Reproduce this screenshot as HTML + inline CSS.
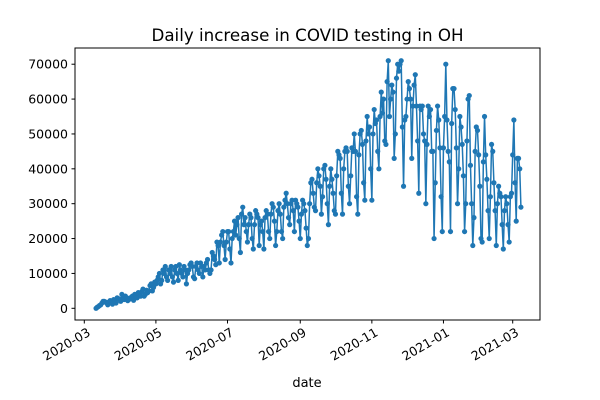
<!DOCTYPE html>
<html><head><meta charset="utf-8"><style>
body{margin:0;background:#fff;}
svg{display:block;font-family:"DejaVu Sans","Liberation Sans",sans-serif;}
</style></head><body>
<svg id="chart" width="600" height="400" xmlns="http://www.w3.org/2000/svg"></svg>
<script>
const startDate = "2020-03-11";
const values = [
0,0.3,0.5,0.8,1,1.5,2, 2,1.8,1.5,1,1.8,2.2,1.6, 1.2,2.5,2,1.5,3,2.8,2.5, 2,4,3,2.5,3.5,3,2.2,
2.5,3,2.8,3.5,2.3,4,3.5, 3,4.5,4,3.5,4.8,5.5,3.5, 4,5.2,4.5,5,6.5,7,5, 6,7.5,7,8,9,10,7,
8,11,10,12,9,8,11, 10,12,9,7.5,11,12,10, 8,12.5,11,10,9,12,11, 7,10,11,12.5,13,12,9,
8.5,12,13,11,10,13,12, 9,12,11,13,14,11,10, 11,16,15,14,12.5,19,18, 13,19,21,22,18,14,19,
22,22,17,13,20,22,25, 21,24,26,20,16,27,29, 24,26,22,19,24,27,26, 20,17,24,28,27,26,18,
24,25,22,17,26,28,27, 22,20,27,30,29,25,18, 22,28,30,27,22,20,29, 31,33,30,26,24,30,31,
28,22,31,30,29,25,20, 27,31,30,28,23,18,20, 30,36,37,33,29,28,36, 40,38,35,27,32,40,41,
37,30,24,35,40,37,33, 28,27,38,45,44,43,33, 27,40,45,46,45,35,30, 38,46,45,50,45,32,27,
44,50,51,47,36,31,48, 55,50,52,40,31,50,57, 53,54,45,40,55,62,56, 60,48,47,65,71,55,60,
64,62,43,50,66,70,68, 70,71,52,35,54,55,60, 65,63,60,43,58,64,67, 58,48,33,58,57,58,50,
48,30,47,58,55,57,45, 45,20,36,51,58,54,46, 32,22,46,55,70,54,45, 42,22,53,63,63,57,46,
30,40,55,52,47,38,22, 30,48,60,61,41,30,18, 26,45,52,51,44,35,20, 19,42,55,44,37,28,20,
32,47,45,36,28,18,30, 35,33,32,24,17,28,32, 30,24,19,32,33,44,54, 36,25,43,43,40,29
].map(v => v * 1000);
const yTicks = [0,10000,20000,30000,40000,50000,60000,70000];
const xTickDates = ["2020-03-01","2020-05-01","2020-07-01","2020-09-01","2020-11-01","2021-01-01","2021-03-01"];
const xTickLabels = ["2020-03","2020-05","2020-07","2020-09","2020-11","2021-01","2021-03"];

const NS = "http://www.w3.org/2000/svg";
const svg = document.getElementById("chart");
const L = 75, R = 540, T = 48, B = 320;
const day0 = Date.parse("2020-03-01");
const pxPerDay = (512.7 - 84.3) / 365;
function xDate(ms){ return 84.3 + (ms - day0) / 86400000 * pxPerDay; }
function y(v){ return 308.3 - v / 10000 * 34.87; }
function mk(tag, attrs, parent){ const e = document.createElementNS(NS, tag); for (const k in attrs) e.setAttribute(k, attrs[k]); (parent || svg).appendChild(e); return e; }

const t = mk("text", {x: 307.5, y: 41, "text-anchor": "middle", "font-size": "16.7"});


t.textContent = "Daily increase in COVID testing in OH";

const s0 = Date.parse(startDate);
const pts = values.map((v, i) => [xDate(s0 + i * 86400000), y(v)]);
const line = mk("polyline", {points: pts.map(p => p[0].toFixed(2) + "," + p[1].toFixed(2)).join(" "), fill: "none", stroke: "#1f77b4", "stroke-width": "1.5", "stroke-linejoin": "round"});


const g = mk("g", {fill: "#1f77b4"});


pts.forEach(p => {
  const c = mk("circle", {cx: p[0].toFixed(2), cy: p[1].toFixed(2), r: 2.6}, g);
  
  
});

const frame = mk("rect", {x: L, y: T, width: R - L, height: B - T, fill: "none", stroke: "#000", "stroke-width": "1"});



yTicks.forEach(v => {
  const yy = y(v);
  const tk = mk("line", {x1: L - 3.5, x2: L, y1: yy, y2: yy, stroke: "#000"});
  
  
  const lb = mk("text", {x: L - 7, y: yy + 4.5, "text-anchor": "end", "font-size": "12.5"});
  
  
  lb.textContent = v;
});
xTickDates.forEach((d, i) => {
  const xx = xDate(Date.parse(d));
  const tk = mk("line", {x1: xx, x2: xx, y1: B, y2: B + 3.5, stroke: "#000"});
  
  
  const lb = mk("text", {x: xx + 3, y: B + 16, "text-anchor": "end", "font-size": "12.5", transform: "rotate(-30 " + (xx + 3) + " " + (B + 8) + ")"});
  
  
  lb.textContent = xTickLabels[i];
});
const xl = mk("text", {x: 307, y: 387, "text-anchor": "middle", "font-size": "13"});


xl.textContent = "date";
</script>
</body></html>
